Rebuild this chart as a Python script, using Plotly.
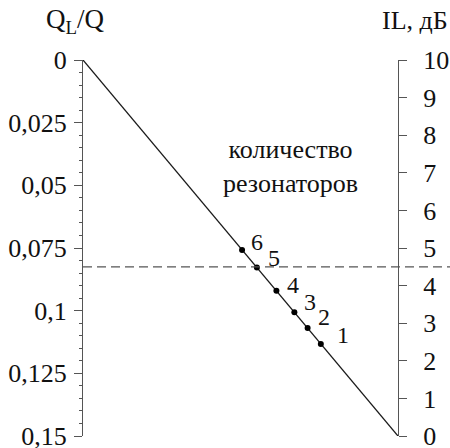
import plotly.graph_objects as go

# Data
q_ticks = [0, 0.025, 0.05, 0.075, 0.1, 0.125, 0.15]
q_labels = ["0", "0,025", "0,05", "0,075", "0,1", "0,125", "0,15"]
il_ticks = [0, 1, 2, 3, 4, 5, 6, 7, 8, 9, 10]
il_labels = [str(v) for v in il_ticks]

line_il = [10, 0]        # IL, dB at ends of line
line_q = [0, 0.15]       # QL/Q at ends of line

resonators = ["1", "2", "3", "4", "5", "6"]
res_il = [2.45, 2.87, 3.29, 3.86, 4.48, 4.95]

dashed_il = 4.5

FONT = "Liberation Serif, Times New Roman, serif"
AX = "#555555"

fig = go.Figure()
fig.add_trace(go.Scatter(x=line_il, y=line_q, mode="lines",
                         line=dict(color="#1a1a1a", width=1.3),
                         xaxis="x", yaxis="y", showlegend=False, hoverinfo="skip"))
fig.add_trace(go.Scatter(x=res_il, y=res_il, mode="markers",
                         marker=dict(color="#000000", size=6),
                         xaxis="x", yaxis="y2", showlegend=False))

offsets = {"1": (22, 9), "2": (16, 11), "3": (16, 10), "4": (17, 6), "5": (17, 10), "6": (15, 8)}
ann = []
for lab, v in zip(resonators, res_il):
    dx, dy = offsets[lab]
    ann.append(dict(x=v, y=v, xref="x", yref="y2", text=lab, showarrow=False,
                    xshift=dx, yshift=dy, font=dict(size=24, color="#111", family=FONT)))

ann.append(dict(x=0.66, y=0.718, xref="paper", yref="paper", xanchor="center", yanchor="middle",
                text="количество<br>резонаторов", showarrow=False,
                font=dict(size=26, color="#111", family=FONT)))
ann.append(dict(x=-0.025, y=1.105, xref="paper", yref="paper", xanchor="center", yanchor="middle",
                text="Q<sub>L</sub>/Q", showarrow=False,
                font=dict(size=27, color="#111", family=FONT)))
ann.append(dict(x=1.054, y=1.105, xref="paper", yref="paper", xanchor="center", yanchor="middle",
                text="IL, дБ", showarrow=False,
                font=dict(size=26, color="#111", family=FONT)))

fig.add_shape(type="line", xref="paper", yref="y2", x0=0, x1=1.2, y0=dashed_il, y1=dashed_il,
              line=dict(color=AX, width=1.2, dash="9px,5px"))

common_left = dict(range=[0.15, 0], showgrid=False, zeroline=False, showline=True,
                   linecolor=AX, linewidth=1.2, tickcolor=AX, tickwidth=1.2, automargin=False,
                   ticklabeloverflow="allow")
common_right = dict(range=[0, 10], showgrid=False, zeroline=False, showline=True,
                    linecolor=AX, linewidth=1.2, tickcolor=AX, tickwidth=1.2, automargin=False,
                    ticklabeloverflow="allow")

fig.update_layout(
    width=450, height=448,
    margin=dict(l=83, r=52, t=60, b=12, autoexpand=False),
    paper_bgcolor="white", plot_bgcolor="white",
    font=dict(family=FONT, size=26, color="#111"),
    xaxis=dict(range=[10, 0], visible=False, domain=[0, 1]),
    yaxis=dict(**common_left, side="left", anchor="x",
               tickmode="array", tickvals=q_ticks, ticktext=q_labels,
               ticks="outside", ticklen=8, ticklabelstandoff=2,
               minor=dict(dtick=0.005, ticks="outside", ticklen=3, tickcolor=AX, tickwidth=1)),
    yaxis3=dict(**common_left, side="left", anchor="free", position=0, overlaying="y",
                tickmode="array", tickvals=q_ticks, showticklabels=False,
                ticks="inside", ticklen=8,
                minor=dict(dtick=0.005, ticks="inside", ticklen=3, tickcolor=AX, tickwidth=1)),
    yaxis2=dict(**common_right, side="right", anchor="x", overlaying="y",
                tickmode="array", tickvals=il_ticks, ticktext=il_labels,
                ticks="outside", ticklen=8, ticklabelstandoff=11),
    yaxis4=dict(**common_right, side="right", anchor="free", position=1, overlaying="y",
                tickmode="array", tickvals=il_ticks, showticklabels=False,
                ticks="inside", ticklen=8),
    annotations=ann,
)

fig.write_html("out.html", config={"displayModeBar": False},
               post_script="document.body.style.margin='0';")
